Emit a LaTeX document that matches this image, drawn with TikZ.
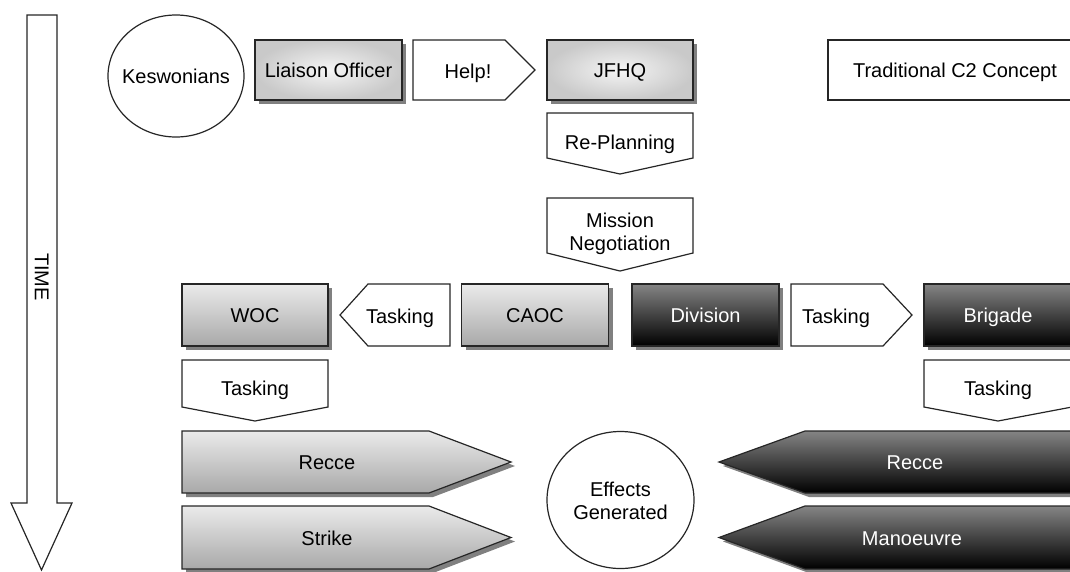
\documentclass[tikz,border=0pt]{standalone}
\usepackage{fontspec}
\setmainfont{Liberation Sans}
\usetikzlibrary{shadows}
\begin{document}
\begin{tikzpicture}[x=1pt,y=-1pt,
  wbox/.style={draw=black!85, line width=1.2pt, line join=miter, fill=white},
  dshadow/.style={drop shadow={shadow xshift=4pt, shadow yshift=-4pt, fill=black!50, opacity=1}},
  lightbox/.style={draw=black!85, line width=1.2pt, dshadow, top color=black!8, bottom color=black!34},
  glowbox/.style={draw=black!85, line width=1.2pt, dshadow, inner color=black!4, outer color=black!21},
  darkbox/.style={draw=black!85, line width=1.2pt, dshadow, top color=black!48, bottom color=black},
  txtml/.style={font=\fontsize{20}{23}\selectfont, align=center, inner sep=0pt},
  txt/.style={txtml, text height=14.4pt, text depth=0pt},
  darktxt/.style={txt, text=white},
  rectnode/.style={rectangle, minimum height=#1},
  rectnode/.default=60pt
]
\useasboundingbox (0,0) rectangle (1070,571);
\clip (0,0) rectangle (1070,571);

% time axis
\draw[wbox] (27,15) -- (57,15) -- (57,503) -- (72,503) -- (41.5,570) -- (11,503) -- (27,503) -- cycle;
\node[txt, rotate=-90] (time) at (42,277) {TIME};

% top row
\draw[wbox] (176,76) ellipse [x radius=68, y radius=61];
\node[txt] (kesw) at (176,76.5) {Keswonians};
\node[glowbox, rectnode, minimum width=147pt, txt] (liaison) at (328.5,70) {Liaison Officer};
\draw[wbox] (413,40) -- (505,40) -- (535,70) -- (505,100) -- (413,100) -- cycle;
\node[txt] (help) at (468,71) {Help!};
\node[glowbox, rectnode, minimum width=146pt, txt] (jfhq) at (620,70) {JFHQ};
\node[wbox, rectnode, minimum width=254pt, txt] (concept) at (955,70) {Traditional C2 Concept};

% planning column
\draw[wbox] (547,113) -- (693,113) -- (693,158) -- (620,174) -- (547,158) -- cycle;
\node[txt] (replan) at (620,142) {Re-Planning};
\draw[wbox] (547,198) -- (693,198) -- (693,253) -- (620,271) -- (547,253) -- cycle;
\node[txtml] (mission) at (620,234) {Mission\\Negotiation};

% command row
\node[lightbox, rectnode=62pt, minimum width=146pt, txt] (woc) at (255,315) {WOC};
\draw[wbox] (340,315) -- (368,284) -- (450,284) -- (450,346) -- (368,346) -- cycle;
\node[txt] (taskl) at (400,316) {Tasking};
\node[lightbox, rectnode=62pt, minimum width=147pt, txt] (caoc) at (535,315) {CAOC};
\node[darkbox, rectnode=62pt, minimum width=147pt, darktxt] (division) at (705.5,315) {Division};
\draw[wbox] (791,284) -- (883,284) -- (912,315) -- (883,346) -- (791,346) -- cycle;
\node[txt] (taskr) at (836,316) {Tasking};
\node[darkbox, rectnode=62pt, minimum width=148pt, darktxt] (brigade) at (998,315) {Brigade};

% tasking down
\draw[wbox] (182,360) -- (328,360) -- (328,407) -- (255,421) -- (182,407) -- cycle;
\node[txt] (taskwoc) at (255,388) {Tasking};
\draw[wbox] (924,360) -- (1072,360) -- (1072,407) -- (998,421) -- (924,407) -- cycle;
\node[txt] (taskbde) at (998,388) {Tasking};

% air effects
\draw[lightbox] (182,431) -- (429,431) -- (511,462) -- (429,493) -- (182,493) -- cycle;
\node[txt] (reccea) at (327,462) {Recce};
\draw[lightbox] (182,506) -- (429,506) -- (511,537.5) -- (429,569) -- (182,569) -- cycle;
\node[txt] (strike) at (327,538) {Strike};

% effects
\draw[wbox] (620.5,500) ellipse [x radius=73.5, y radius=68.5];
\node[txtml] (effects) at (620.5,501) {Effects\\Generated};

% land effects
\draw[darkbox] (719,462) -- (805,431) -- (1100,431) -- (1100,493) -- (805,493) -- cycle;
\node[darktxt] (recceb) at (915,462) {Recce};
\draw[darkbox] (719,537.5) -- (805,506) -- (1100,506) -- (1100,569) -- (805,569) -- cycle;
\node[darktxt] (manoeuvre) at (912,538) {Manoeuvre};
\end{tikzpicture}
\end{document}
